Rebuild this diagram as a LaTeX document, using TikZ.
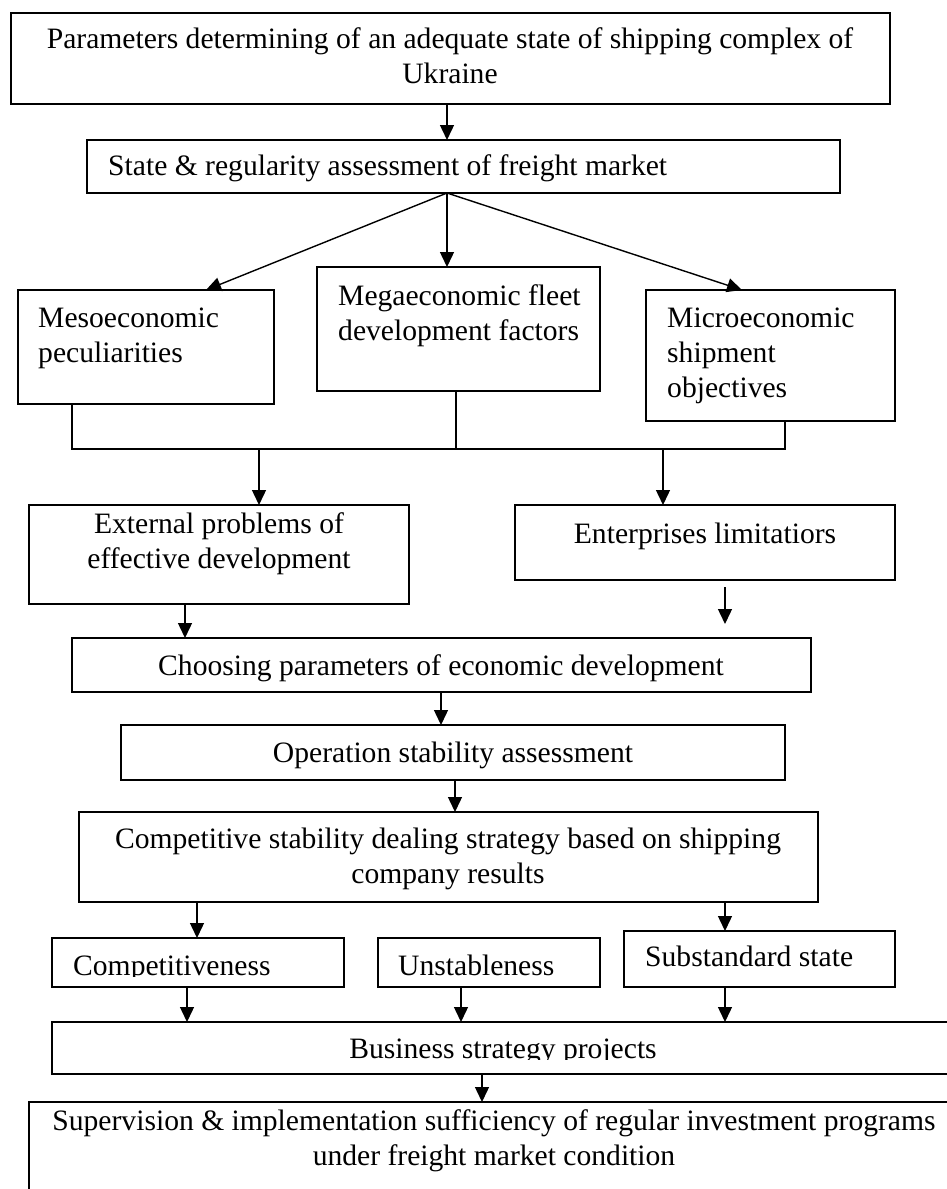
\documentclass[tikz,border=0pt]{standalone}
\usepackage{fontspec}
\setmainfont{Liberation Serif}
\usetikzlibrary{arrows.meta}
\begin{document}
\begin{tikzpicture}[x=1pt,y=-1pt,
  box/.style={draw, line width=1.5pt, inner sep=0pt, outer sep=0pt, anchor=north west},
  lbl/.style={inner sep=0pt, font=\fontsize{29.6}{35}\selectfont},
  arr/.style={line width=1.4pt, -{Triangle[length=15pt,width=14pt]}},
  con/.style={line width=1.4pt}]
\clip (0,0) rectangle (947,1189);
\useasboundingbox (0,0) rectangle (947,1189);
% boxes
\node[box, minimum width=879pt, minimum height=91pt]  (top)    at (11,13)   {};
\node[box, minimum width=753pt, minimum height=53pt]  (state)  at (87,140)  {};
\node[box, minimum width=256pt, minimum height=114pt] (meso)   at (18,290)  {};
\node[box, minimum width=283pt, minimum height=124pt] (mega)   at (317,267) {};
\node[box, minimum width=249pt, minimum height=131pt] (micro)  at (646,290) {};
\node[box, minimum width=380pt, minimum height=99pt]  (ext)    at (29,505)  {};
\node[box, minimum width=380pt, minimum height=75pt]  (ent)    at (515,505) {};
\node[box, minimum width=739pt, minimum height=54pt]  (choose) at (72,638)  {};
\node[box, minimum width=664pt, minimum height=55pt]  (oper)   at (121,725) {};
\node[box, minimum width=739pt, minimum height=90pt]  (comp)   at (79,812)  {};
\node[box, minimum width=292pt, minimum height=49pt]  (cness)  at (52,938)  {};
\node[box, minimum width=222pt, minimum height=49pt]  (unst)   at (378,938) {};
\node[box, minimum width=271pt, minimum height=56pt]  (subs)   at (624,931) {};
\node[box, minimum width=918pt, minimum height=52pt]  (bus)    at (52,1022) {};
\node[box, minimum width=941pt, minimum height=108pt] (sup)    at (29,1102) {};
% texts
\node[lbl, anchor=north, align=center] (ttop) at (450,23.5)
  {\strut Parameters determining of an adequate state of shipping complex of\\Ukraine};
\node[lbl, anchor=base west] (tstate) at (108,175) {State \& regularity assessment of freight market};
\node[lbl, anchor=north west, align=left] (tmeso) at (38,302.5) {\strut Mesoeconomic\\peculiarities};
\node[lbl, anchor=north west, align=left] (tmega) at (338,280.5) {\strut Megaeconomic fleet\\development factors};
\node[lbl, anchor=north west, align=left] (tmicro) at (667,302.5) {\strut Microeconomic\\shipment\\objectives};
\node[lbl, anchor=north, align=center] (text) at (219,508.5) {\strut External problems of\\effective development};
\node[lbl, anchor=base] (tent) at (705,543) {Enterprises limitatiors};
\node[lbl, anchor=base] (tchoose) at (441,675) {Choosing parameters of economic development};
\node[lbl, anchor=base] (toper) at (453,762) {Operation stability assessment};
\node[lbl, anchor=north, align=center] (tcomp) at (448,823.5)
  {\strut Competitive stability dealing strategy based on shipping\\company results};
\begin{scope}
  \clip (45,900) rectangle (360,976);
  \node[lbl, anchor=base west] (tcness) at (73,975) {Competitiveness};
\end{scope}
\node[lbl, anchor=base west] (tunst) at (398,975) {Unstableness};
\node[lbl, anchor=base west] (tsubs) at (645,966) {Substandard state};
\begin{scope}
  \clip (55,1025) rectangle (960,1059);
  \node[lbl, anchor=base] (tbus) at (503,1058) {Business strategy projects};
\end{scope}
\node[lbl, anchor=north, align=center] (tsup) at (494,1105.5)
  {\strut Supervision \& implementation sufficiency of regular investment programs\\under freight market condition};
% column coordinates
\coordinate (c447) at (447,0);
\coordinate (c206) at (206,0);
\coordinate (c742) at (742,0);
\coordinate (c72) at (72,0);
\coordinate (c456) at (456,0);
\coordinate (c785) at (785,0);
\coordinate (c259) at (259,0);
\coordinate (c663) at (663,0);
\coordinate (c185) at (185,0);
\coordinate (c725) at (725,0);
\coordinate (c441) at (441,0);
\coordinate (c455) at (455,0);
\coordinate (c197) at (197,0);
\coordinate (c187) at (187,0);
\coordinate (c461) at (461,0);
\coordinate (c482) at (482,0);
\coordinate (bar) at (0,449);
% connectors
\draw[arr] (top.south -| c447) -- (state.north -| c447);
\draw[arr] (state.south -| c447) -- (meso.north -| c206);
\draw[arr] (state.south -| c447) -- (mega.north -| c447);
\draw[arr] (state.south -| c447) -- (micro.north -| c742);
\draw[con] (meso.south -| c72) -- (bar -| c72) -- (bar -| c785) -- (micro.south -| c785);
\draw[con] (mega.south -| c456) -- (bar -| c456);
\draw[arr] (bar -| c259) -- (ext.north -| c259);
\draw[arr] (bar -| c663) -- (ent.north -| c663);
\draw[arr] (ext.south -| c185) -- (choose.north -| c185);
\draw[arr, shorten <=7pt, shorten >=14pt] (ent.south -| c725) -- (choose.north -| c725);
\draw[arr] (choose.south -| c441) -- (oper.north -| c441);
\draw[arr] (oper.south -| c455) -- (comp.north -| c455);
\draw[arr] (comp.south -| c197) -- (cness.north -| c197);
\draw[arr] (comp.south -| c725) -- (subs.north -| c725);
\draw[arr] (cness.south -| c187) -- (bus.north -| c187);
\draw[arr] (unst.south -| c461) -- (bus.north -| c461);
\draw[arr] (subs.south -| c725) -- (bus.north -| c725);
\draw[arr] (bus.south -| c482) -- (sup.north -| c482);
\end{tikzpicture}
\end{document}
